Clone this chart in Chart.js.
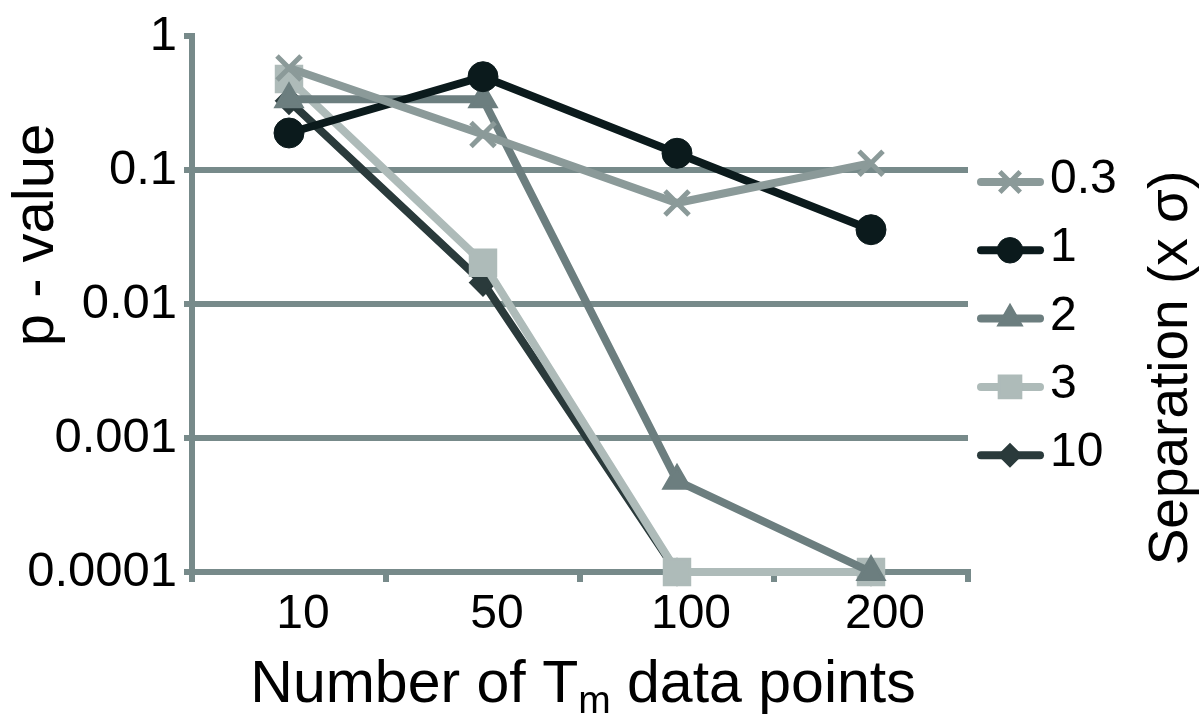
<!DOCTYPE html>
<html><head><meta charset="utf-8">
<script src="https://cdn.jsdelivr.net/npm/chart.js@4.4.1/dist/chart.umd.min.js"></script>
<style>html,body{margin:0;padding:0;background:#fff;}#wrap{width:1200px;height:722px;position:relative;}</style>
</head><body><div id="wrap"><canvas id="c" width="1200" height="722"></canvas></div>
<script>
// ---- data ----
const categories = ['10', '50', '100', '200'];
const seriesNames = ['0.3', '1', '2', '3', '10'];
const sep03 = [0.58, 0.185, 0.057, 0.113];
const sep1 = [0.19, 0.5, 0.134, 0.036];
const sep2 = [0.34, 0.34, 0.00048, 0.0001];
const sep3 = [0.48, 0.0204, 0.0001, 0.0001];
const sep10 = [0.33, 0.0145, 0.0001, 0.0001];
const yTickValues = [0.0001, 0.001, 0.01, 0.1, 1];
const yTickLabels = ['0.0001', '0.001', '0.01', '0.1', '1'];
const xTitleParts = ['Number of T', 'm', ' data points'];
const yTitle = 'p - value';
const legendTitle = 'Separation (x \u03c3)';

// ---- styles ----
const FONT = '"Liberation Sans", Arial, Helvetica, sans-serif';
const gridColor = '#778a8a';
const colors = ['#8b9a99', '#0b1a1c', '#6c7e7f', '#aebbb9', '#2a3a3b'];
const pStyles = ['crossRot', 'circle', 'triangle', 'rect', 'rectRot'];
const pRadius = [17, 15, 15, 18, 13];
const pBorder = [5, 1, 3, 3, 2];
const seriesData = [sep03, sep1, sep2, sep3, sep10];

const datasets = seriesNames.map((name, i) => ({
  label: name,
  data: seriesData[i],
  borderColor: colors[i],
  backgroundColor: colors[i],
  borderWidth: 8,
  pointStyle: pStyles[i],
  pointRadius: pRadius[i],
  pointBorderWidth: pBorder[i],
  pointBackgroundColor: colors[i],
  pointBorderColor: colors[i],
  tension: 0,
  clip: false,
  order: i
}));

const decorPlugin = {
  id: 'decor',
  afterDraw(chart) {
    const ctx = chart.ctx;
    ctx.save();
    // legend
    chart.data.datasets.forEach((ds, i) => {
      const y = 182 + i * 68.3;
      ctx.strokeStyle = ds.borderColor;
      ctx.lineWidth = 8;
      ctx.lineCap = 'round';
      ctx.beginPath();
      ctx.moveTo(981, y);
      ctx.lineTo(1040, y);
      ctx.stroke();
      ctx.lineCap = 'butt';
      ctx.fillStyle = ds.pointBackgroundColor;
      ctx.strokeStyle = ds.pointBorderColor;
      ctx.lineWidth = ds.pointBorderWidth;
      Chart.helpers.drawPoint(ctx, {
        pointStyle: ds.pointStyle,
        radius: ds.pointRadius * 0.85,
        borderWidth: ds.pointBorderWidth,
        rotation: 0
      }, 1010, y);
      ctx.fillStyle = '#000';
      ctx.font = '48px ' + FONT;
      ctx.textAlign = 'left';
      ctx.textBaseline = 'alphabetic';
      ctx.fillText(ds.label, 1050, y + 11);
    });
    // y title
    ctx.fillStyle = '#000';
    ctx.font = '58px ' + FONT;
    ctx.textAlign = 'center';
    ctx.textBaseline = 'alphabetic';
    ctx.save();
    ctx.translate(53, 235);
    ctx.rotate(-Math.PI / 2);
    ctx.fillText(yTitle, 0, 0);
    ctx.restore();
    // right title
    ctx.font = '55px ' + FONT;
    ctx.save();
    ctx.translate(1187, 368);
    ctx.rotate(-Math.PI / 2);
    ctx.fillText(legendTitle, 0, 0);
    ctx.restore();
    // x title with subscript
    const bigF = '59px ' + FONT, smallF = '39px ' + FONT;
    ctx.font = bigF; const w0 = ctx.measureText(xTitleParts[0]).width;
    const w2 = ctx.measureText(xTitleParts[2]).width;
    ctx.font = smallF; const w1 = ctx.measureText(xTitleParts[1]).width;
    const total = w0 + w1 + w2;
    let x = 583 - total / 2;
    const base = 702;
    ctx.textAlign = 'left';
    ctx.font = bigF; ctx.fillText(xTitleParts[0], x, base); x += w0;
    ctx.font = smallF; ctx.fillText(xTitleParts[1], x, base + 11); x += w1;
    ctx.font = bigF; ctx.fillText(xTitleParts[2], x, base);
    ctx.restore();
  }
};

new Chart(document.getElementById('c'), {
  type: 'line',
  data: { labels: categories, datasets },
  options: {
    responsive: false,
    animation: false,
    devicePixelRatio: 1,
    layout: { padding: { left: 0, right: 232, top: 32, bottom: 0 } },
    plugins: { legend: { display: false }, tooltip: { enabled: false } },
    scales: {
      x: {
        type: 'category',
        offset: true,
        afterFit(scale) { scale.height = 150; },
        grid: { display: true, drawOnChartArea: false, drawTicks: true, tickLength: 10, offset: true, color: gridColor, lineWidth: 6 },
        border: { display: true, color: gridColor, width: 6 },
        ticks: { color: '#000', font: { family: FONT, size: 48 }, padding: 4, labelOffset: 14, maxRotation: 0 }
      },
      y: {
        type: 'logarithmic',
        min: 0.0001,
        max: 1,
        afterFit(scale) { scale.width = 192; },
        afterBuildTicks(scale) { scale.ticks = yTickValues.map(v => ({ value: v })); },
        grid: {
          color: ctx => (ctx.tick && ctx.tick.value === 1) ? 'rgba(0,0,0,0)' : gridColor,
          tickColor: gridColor,
          lineWidth: 6,
          tickLength: 8,
          drawTicks: true
        },
        border: { display: true, color: gridColor, width: 6 },
        ticks: {
          color: '#000',
          font: { family: FONT, size: 49 },
          padding: 7,
          autoSkip: false,
          callback(value) {
            const idx = yTickValues.findIndex(v => Math.abs(Math.log10(v) - Math.log10(value)) < 1e-6);
            return idx >= 0 ? yTickLabels[idx] : '';
          }
        }
      }
    }
  },
  plugins: [decorPlugin]
});
</script>
</body></html>
